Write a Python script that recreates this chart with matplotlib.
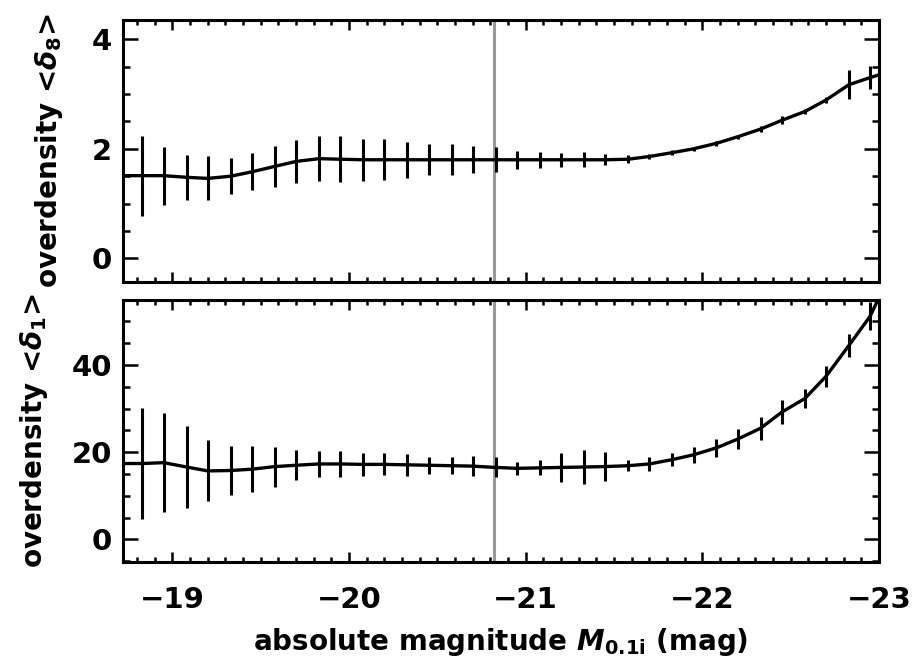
import matplotlib
matplotlib.use("Agg")
import matplotlib.pyplot as plt
from matplotlib.ticker import MultipleLocator

# bin centres (absolute magnitude)
mag = [-18.83, -18.95, -19.08, -19.20, -19.33, -19.45, -19.58, -19.70, -19.83, -19.95,
       -20.08, -20.20, -20.33, -20.45, -20.58, -20.70, -20.83, -20.95, -21.08, -21.20,
       -21.33, -21.45, -21.58, -21.70, -21.83, -21.95, -22.08, -22.20, -22.33, -22.45,
       -22.58, -22.70, -22.83, -22.95]

# <delta_8>
d8 = [1.51, 1.51, 1.48, 1.46, 1.50, 1.58, 1.68, 1.77, 1.82, 1.81,
      1.80, 1.80, 1.80, 1.80, 1.80, 1.80, 1.80, 1.80, 1.80, 1.80,
      1.80, 1.80, 1.81, 1.86, 1.93, 2.00, 2.10, 2.22, 2.36, 2.52,
      2.68, 2.89, 3.17, 3.30]
d8_err = [0.73, 0.53, 0.41, 0.40, 0.33, 0.34, 0.37, 0.39, 0.41, 0.42,
          0.38, 0.37, 0.33, 0.28, 0.28, 0.25, 0.23, 0.16, 0.15, 0.13,
          0.14, 0.10, 0.07, 0.05, 0.04, 0.04, 0.04, 0.04, 0.05, 0.07,
          0.05, 0.05, 0.26, 0.21]

# <delta_1>
d1 = [17.4, 17.6, 16.6, 15.7, 15.8, 16.1, 16.7, 17.0, 17.3, 17.3,
      17.2, 17.2, 17.1, 17.0, 16.9, 16.8, 16.5, 16.3, 16.4, 16.5,
      16.6, 16.7, 16.9, 17.3, 18.3, 19.4, 21.0, 23.0, 25.5, 29.2,
      32.3, 37.4, 44.5, 51.2]
d1_err = [12.8, 11.4, 9.4, 7.0, 5.6, 5.3, 4.6, 3.4, 3.0, 3.0,
          2.6, 2.5, 2.5, 2.0, 2.0, 2.3, 2.3, 1.5, 1.7, 3.3,
          4.0, 3.3, 1.3, 1.7, 1.5, 1.9, 2.1, 2.3, 2.6, 2.7,
          2.2, 2.4, 2.7, 3.2]

# curve continues to the plot edges
edge_mag = [-18.72, -23.0]
d8_edge = [1.51, 3.35]
d1_edge = [17.4, 55.5]

mag_cut = -20.82

plt.rcParams["font.family"] = ["DejaVu Sans"]
plt.rcParams["font.weight"] = "bold"
plt.rcParams["axes.labelweight"] = "bold"

fig = plt.figure(figsize=(9.18, 6.63), dpi=100)
ax1 = fig.add_axes([0.134, 0.5747, 0.8235, 0.3951])
ax2 = fig.add_axes([0.134, 0.1523, 0.8235, 0.3951])

panels = [
    (ax1, d8, d8_err, d8_edge, (-0.43, 4.35), 2, 0.5, r"overdensity <$\boldsymbol{\delta}_\mathbf{8}$>"),
    (ax2, d1, d1_err, d1_edge, (-5.2, 54.9), 20, 5, r"overdensity <$\boldsymbol{\delta}_\mathbf{1}$>"),
]

for ax, y, yerr, yedge, ylim, major, minor, label in panels:
    cx = [edge_mag[0]] + mag + [edge_mag[1]]
    cy = [yedge[0]] + y + [yedge[1]]
    ax.plot(cx, cy, color="black", lw=2.4, solid_joinstyle="round", zorder=3)
    ax.errorbar(mag, y, yerr=yerr, fmt="none", ecolor="black", elinewidth=2.2,
                capsize=0, zorder=3)
    ax.axvline(mag_cut, color="#999999", lw=2.2, zorder=2)
    ax.set_xlim(-18.72, -23.0)
    ax.set_ylim(*ylim)
    ax.xaxis.set_major_locator(MultipleLocator(1))
    ax.xaxis.set_minor_locator(MultipleLocator(0.1))
    ax.yaxis.set_major_locator(MultipleLocator(major))
    ax.yaxis.set_minor_locator(MultipleLocator(minor))
    ax.tick_params(which="both", direction="in", top=True, right=True, width=1.8,
                   labelsize=21)
    ax.tick_params(axis="y", which="major", length=11, pad=8)
    ax.tick_params(axis="y", which="minor", length=5)
    ax.tick_params(axis="x", which="major", length=7.5, pad=17)
    ax.tick_params(axis="x", which="minor", length=3.8)
    for s in ax.spines.values():
        s.set_linewidth(2.2)
    ax.set_ylabel(label, fontsize=20, fontweight="bold")

ax1.tick_params(labelbottom=False)
ax1.yaxis.set_label_coords(-0.077, 0.5)
ax2.yaxis.set_label_coords(-0.097, 0.5)
ax2.set_xlabel(r"absolute magnitude $\boldsymbol{M}_\mathbf{0.1i}$ (mag)", fontsize=20,
               fontweight="bold", labelpad=9)

fig.savefig("out.png", dpi=100)
